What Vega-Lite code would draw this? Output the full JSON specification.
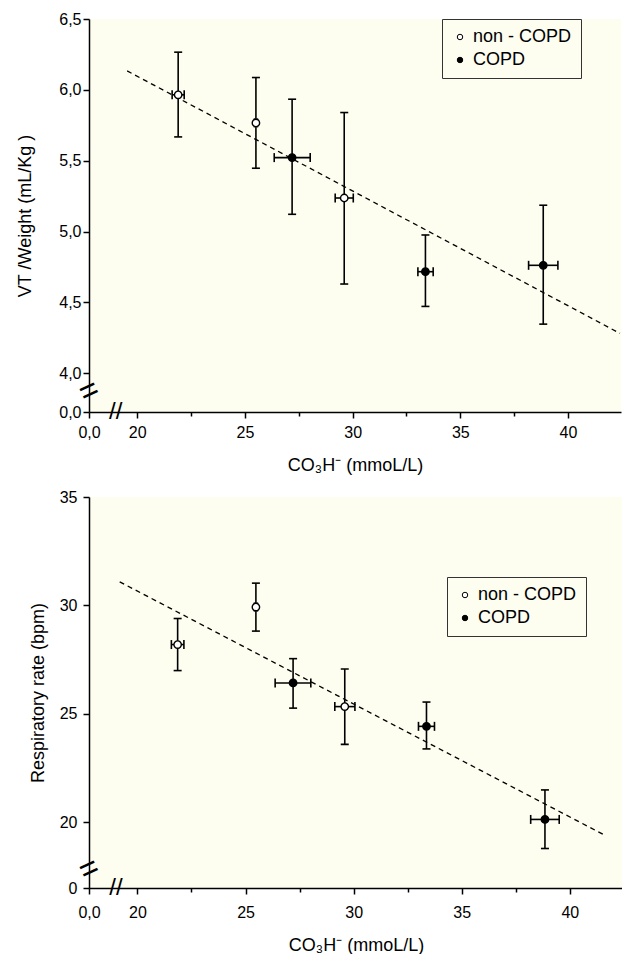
{
  "$schema": "https://vega.github.io/schema/vega-lite/v6.json",
  "padding": {"top": 11, "left": 16, "right": 0, "bottom": 0},
  "background": "white",
  "columns": 1,
  "align": "none",
  "spacing": 15,
  "resolve": {"scale": {"x": "independent", "y": "independent", "fill": "independent"}, "legend": {"fill": "independent"}},
  "datasets": {
    "vt": [
      {"grp": "non - COPD", "x": 21.9, "xlo": 21.62, "xhi": 22.18, "y": 5.965, "ylo": 5.668, "yhi": 6.266},
      {"grp": "non - COPD", "x": 25.51, "xlo": 25.44, "xhi": 25.58, "y": 5.767, "ylo": 5.447, "yhi": 6.087},
      {"grp": "COPD", "x": 27.19, "xlo": 26.36, "xhi": 28.03, "y": 5.522, "ylo": 5.122, "yhi": 5.934},
      {"grp": "non - COPD", "x": 29.61, "xlo": 29.19, "xhi": 30.03, "y": 5.237, "ylo": 4.63, "yhi": 5.84},
      {"grp": "COPD", "x": 33.38, "xlo": 33.03, "xhi": 33.74, "y": 4.717, "ylo": 4.472, "yhi": 4.976},
      {"grp": "COPD", "x": 38.85, "xlo": 38.17, "xhi": 39.53, "y": 4.762, "ylo": 4.347, "yhi": 5.186}
    ],
    "rr": [
      {"grp": "non - COPD", "x": 21.86, "xlo": 21.57, "xhi": 22.15, "y": 28.2, "ylo": 27.0, "yhi": 29.4},
      {"grp": "non - COPD", "x": 25.48, "xlo": 25.41, "xhi": 25.55, "y": 29.93, "ylo": 28.82, "yhi": 31.03},
      {"grp": "COPD", "x": 27.2, "xlo": 26.37, "xhi": 28.02, "y": 26.43, "ylo": 25.27, "yhi": 27.55},
      {"grp": "non - COPD", "x": 29.59, "xlo": 29.13, "xhi": 30.06, "y": 25.34, "ylo": 23.6, "yhi": 27.07},
      {"grp": "COPD", "x": 33.37, "xlo": 33.0, "xhi": 33.74, "y": 24.43, "ylo": 23.39, "yhi": 25.55},
      {"grp": "COPD", "x": 38.85, "xlo": 38.19, "xhi": 39.51, "y": 20.14, "ylo": 18.8, "yhi": 21.5}
    ],
    "vtTrend": [{"x": 19.53, "y": 6.134}, {"x": 42.41, "y": 4.282}],
    "rrTrend": [{"x": 19.18, "y": 31.09}, {"x": 41.64, "y": 19.4}]
  },
  "concat": [
    {
      "width": 532,
      "height": 393,
      "resolve": {"axis": {"x": "independent"}},
      "layer": [
        {
          "data": {"name": "vtTrend"},
          "mark": {"type": "line", "color": "black", "strokeDash": [5, 4], "strokeWidth": 1.3},
          "encoding": {
            "x": {"field": "x", "type": "quantitative", "scale": {"domain": [17.76, 42.46], "nice": false, "zero": false},
                  "axis": {"orient": "bottom", "values": [22.5, 27.5, 32.5, 37.5], "labels": false, "domain": false, "tickSize": 4, "title": null}},
            "y": {"field": "y", "type": "quantitative", "scale": {"domain": [3.727, 6.5], "nice": false, "zero": false},
                  "axis": {"title": "VT /Weight (mL/Kg )", "values": [3.727, 4, 4.5, 5, 5.5, 6, 6.5], "labelExpr": "datum.value < 3.8 ? '0,0' : replace(format(datum.value, '.1f'), '.', ',')", "labelPadding": 2, "titlePadding": 24}}
          }
        },
        {
          "data": {"name": "vt"},
          "mark": {"type": "rule", "color": "black", "strokeWidth": 1.6},
          "encoding": {
            "x": {"field": "x", "type": "quantitative", "axis": null},
            "y": {"field": "ylo", "type": "quantitative", "axis": {"title": "VT /Weight (mL/Kg )", "values": [3.727, 4, 4.5, 5, 5.5, 6, 6.5], "labelExpr": "datum.value < 3.8 ? '0,0' : replace(format(datum.value, '.1f'), '.', ',')", "labelPadding": 2, "titlePadding": 24}},
            "y2": {"field": "yhi"}
          }
        },
        {
          "data": {"name": "vt"},
          "mark": {"type": "rule", "color": "black", "strokeWidth": 1.6},
          "encoding": {
            "x": {"field": "xlo", "type": "quantitative", "axis": null},
            "x2": {"field": "xhi"},
            "y": {"field": "y", "type": "quantitative", "axis": {"title": "VT /Weight (mL/Kg )", "values": [3.727, 4, 4.5, 5, 5.5, 6, 6.5], "labelExpr": "datum.value < 3.8 ? '0,0' : replace(format(datum.value, '.1f'), '.', ',')", "labelPadding": 2, "titlePadding": 24}}
          }
        },
        {
          "data": {"name": "vt"},
          "transform": [{"fold": ["ylo", "yhi"], "as": ["end", "yv"]}],
          "mark": {"type": "tick", "orient": "horizontal", "color": "black", "size": 8, "thickness": 1.6, "opacity": 1},
          "encoding": {
            "x": {"field": "x", "type": "quantitative", "axis": null},
            "y": {"field": "yv", "type": "quantitative", "axis": {"title": "VT /Weight (mL/Kg )", "values": [3.727, 4, 4.5, 5, 5.5, 6, 6.5], "labelExpr": "datum.value < 3.8 ? '0,0' : replace(format(datum.value, '.1f'), '.', ',')", "labelPadding": 2, "titlePadding": 24}}
          }
        },
        {
          "data": {"name": "vt"},
          "transform": [{"fold": ["xlo", "xhi"], "as": ["end", "xv"]}],
          "mark": {"type": "tick", "orient": "vertical", "color": "black", "size": 9, "thickness": 1.6, "opacity": 1},
          "encoding": {
            "x": {"field": "xv", "type": "quantitative", "axis": null},
            "y": {"field": "y", "type": "quantitative", "axis": {"title": "VT /Weight (mL/Kg )", "values": [3.727, 4, 4.5, 5, 5.5, 6, 6.5], "labelExpr": "datum.value < 3.8 ? '0,0' : replace(format(datum.value, '.1f'), '.', ',')", "labelPadding": 2, "titlePadding": 24}}
          }
        },
        {
          "data": {"name": "vt"},
          "mark": {"type": "point", "shape": "circle", "filled": true, "size": 55, "stroke": "black", "strokeWidth": 1.4, "opacity": 1},
          "encoding": {
            "x": {"field": "x", "type": "quantitative",
                  "axis": {"orient": "bottom", "title": "CO₃H⁻ (mmoL/L)", "values": [17.76, 20, 25, 30, 35, 40], "labelExpr": "datum.value < 19 ? '0,0' : format(datum.value, 'd')", "labelFlush": false, "labelPadding": 6, "titlePadding": 16}},
            "y": {"field": "y", "type": "quantitative", "axis": {"title": "VT /Weight (mL/Kg )", "values": [3.727, 4, 4.5, 5, 5.5, 6, 6.5], "labelExpr": "datum.value < 3.8 ? '0,0' : replace(format(datum.value, '.1f'), '.', ',')", "labelPadding": 2, "titlePadding": 24}},
            "fill": {"field": "grp", "type": "nominal", "scale": {"domain": ["non - COPD", "COPD"], "range": ["white", "black"]},
                     "legend": {"orient": "none", "legendX": 353, "legendY": 0, "title": null, "strokeColor": "#333333", "fillColor": "#fdfdf0", "padding": 9, "labelFontSize": 18, "labelFont": "Liberation Sans", "labelColor": "black", "symbolType": "circle", "symbolSize": 30, "symbolStrokeColor": "black", "symbolStrokeWidth": 1, "rowPadding": 5, "labelOffset": 4}}
          }
        },
        {
          "data": {"values": [{"x": 17.76, "y": 3.875}]},
          "mark": {"type": "text", "text": "=", "fontSize": 32, "angle": -25, "color": "black", "baseline": "middle", "align": "center"},
          "encoding": {
            "x": {"field": "x", "type": "quantitative", "axis": null},
            "y": {"field": "y", "type": "quantitative", "axis": {"title": "VT /Weight (mL/Kg )", "values": [3.727, 4, 4.5, 5, 5.5, 6, 6.5], "labelExpr": "datum.value < 3.8 ? '0,0' : replace(format(datum.value, '.1f'), '.', ',')", "labelPadding": 2, "titlePadding": 24}}
          }
        },
        {
          "data": {"values": [{"x": 19.0, "y": 3.727}]},
          "mark": {"type": "text", "text": "//", "fontSize": 24, "color": "black", "baseline": "middle", "align": "center"},
          "encoding": {
            "x": {"field": "x", "type": "quantitative", "axis": null},
            "y": {"field": "y", "type": "quantitative", "axis": {"title": "VT /Weight (mL/Kg )", "values": [3.727, 4, 4.5, 5, 5.5, 6, 6.5], "labelExpr": "datum.value < 3.8 ? '0,0' : replace(format(datum.value, '.1f'), '.', ',')", "labelPadding": 2, "titlePadding": 24}}
          }
        }
      ]
    },
    {
      "width": 534,
      "height": 391,
      "resolve": {"axis": {"x": "independent"}},
      "layer": [
        {
          "data": {"name": "rrTrend"},
          "mark": {"type": "line", "color": "black", "strokeDash": [5, 4], "strokeWidth": 1.3},
          "encoding": {
            "x": {"field": "x", "type": "quantitative", "scale": {"domain": [17.76, 42.46], "nice": false, "zero": false},
                  "axis": {"orient": "bottom", "values": [22.5, 27.5, 32.5, 37.5], "labels": false, "domain": false, "tickSize": 4, "title": null}},
            "y": {"field": "y", "type": "quantitative", "scale": {"domain": [16.98, 35], "nice": false, "zero": false},
                  "axis": {"title": "Respiratory rate (bpm)", "values": [16.98, 20, 25, 30, 35], "labelExpr": "datum.value < 17.5 ? '0' : format(datum.value, 'd')", "labelPadding": 6, "titlePadding": 12}}
          }
        },
        {
          "data": {"name": "rr"},
          "mark": {"type": "rule", "color": "black", "strokeWidth": 1.6},
          "encoding": {
            "x": {"field": "x", "type": "quantitative", "axis": null},
            "y": {"field": "ylo", "type": "quantitative", "axis": {"title": "Respiratory rate (bpm)", "values": [16.98, 20, 25, 30, 35], "labelExpr": "datum.value < 17.5 ? '0' : format(datum.value, 'd')", "labelPadding": 6, "titlePadding": 12}},
            "y2": {"field": "yhi"}
          }
        },
        {
          "data": {"name": "rr"},
          "mark": {"type": "rule", "color": "black", "strokeWidth": 1.6},
          "encoding": {
            "x": {"field": "xlo", "type": "quantitative", "axis": null},
            "x2": {"field": "xhi"},
            "y": {"field": "y", "type": "quantitative", "axis": {"title": "Respiratory rate (bpm)", "values": [16.98, 20, 25, 30, 35], "labelExpr": "datum.value < 17.5 ? '0' : format(datum.value, 'd')", "labelPadding": 6, "titlePadding": 12}}
          }
        },
        {
          "data": {"name": "rr"},
          "transform": [{"fold": ["ylo", "yhi"], "as": ["end", "yv"]}],
          "mark": {"type": "tick", "orient": "horizontal", "color": "black", "size": 8, "thickness": 1.6, "opacity": 1},
          "encoding": {
            "x": {"field": "x", "type": "quantitative", "axis": null},
            "y": {"field": "yv", "type": "quantitative", "axis": {"title": "Respiratory rate (bpm)", "values": [16.98, 20, 25, 30, 35], "labelExpr": "datum.value < 17.5 ? '0' : format(datum.value, 'd')", "labelPadding": 6, "titlePadding": 12}}
          }
        },
        {
          "data": {"name": "rr"},
          "transform": [{"fold": ["xlo", "xhi"], "as": ["end", "xv"]}],
          "mark": {"type": "tick", "orient": "vertical", "color": "black", "size": 9, "thickness": 1.6, "opacity": 1},
          "encoding": {
            "x": {"field": "xv", "type": "quantitative", "axis": null},
            "y": {"field": "y", "type": "quantitative", "axis": {"title": "Respiratory rate (bpm)", "values": [16.98, 20, 25, 30, 35], "labelExpr": "datum.value < 17.5 ? '0' : format(datum.value, 'd')", "labelPadding": 6, "titlePadding": 12}}
          }
        },
        {
          "data": {"name": "rr"},
          "mark": {"type": "point", "shape": "circle", "filled": true, "size": 55, "stroke": "black", "strokeWidth": 1.4, "opacity": 1},
          "encoding": {
            "x": {"field": "x", "type": "quantitative",
                  "axis": {"orient": "bottom", "title": "CO₃H⁻ (mmoL/L)", "values": [17.76, 20, 25, 30, 35, 40], "labelExpr": "datum.value < 19 ? '0,0' : format(datum.value, 'd')", "labelFlush": false, "labelPadding": 10, "titlePadding": 16}},
            "y": {"field": "y", "type": "quantitative", "axis": {"title": "Respiratory rate (bpm)", "values": [16.98, 20, 25, 30, 35], "labelExpr": "datum.value < 17.5 ? '0' : format(datum.value, 'd')", "labelPadding": 6, "titlePadding": 12}},
            "fill": {"field": "grp", "type": "nominal", "scale": {"domain": ["non - COPD", "COPD"], "range": ["white", "black"]},
                     "legend": {"orient": "none", "legendX": 358, "legendY": 80, "title": null, "strokeColor": "#333333", "fillColor": "#fdfdf0", "padding": 9, "labelFontSize": 18, "labelFont": "Liberation Sans", "labelColor": "black", "symbolType": "circle", "symbolSize": 30, "symbolStrokeColor": "black", "symbolStrokeWidth": 1, "rowPadding": 5, "labelOffset": 4}}
          }
        },
        {
          "data": {"values": [{"x": 17.76, "y": 17.86}]},
          "mark": {"type": "text", "text": "=", "fontSize": 32, "angle": -25, "color": "black", "baseline": "middle", "align": "center"},
          "encoding": {
            "x": {"field": "x", "type": "quantitative", "axis": null},
            "y": {"field": "y", "type": "quantitative", "axis": {"title": "Respiratory rate (bpm)", "values": [16.98, 20, 25, 30, 35], "labelExpr": "datum.value < 17.5 ? '0' : format(datum.value, 'd')", "labelPadding": 6, "titlePadding": 12}}
          }
        },
        {
          "data": {"values": [{"x": 19.01, "y": 16.98}]},
          "mark": {"type": "text", "text": "//", "fontSize": 24, "color": "black", "baseline": "middle", "align": "center"},
          "encoding": {
            "x": {"field": "x", "type": "quantitative", "axis": null},
            "y": {"field": "y", "type": "quantitative", "axis": {"title": "Respiratory rate (bpm)", "values": [16.98, 20, 25, 30, 35], "labelExpr": "datum.value < 17.5 ? '0' : format(datum.value, 'd')", "labelPadding": 6, "titlePadding": 12}}
          }
        }
      ]
    }
  ],
  "config": {
    "font": "Liberation Sans",
    "view": {"fill": "#fdfdf0", "stroke": null},
    "axis": {"domainColor": "black", "domainWidth": 1.5, "tickColor": "black", "tickWidth": 1.5, "tickSize": 6, "labelColor": "black", "titleColor": "black", "labelFont": "Liberation Sans", "titleFont": "Liberation Sans", "labelFontSize": 16, "titleFontSize": 18, "titleFontWeight": "normal", "grid": false}
  }
}
